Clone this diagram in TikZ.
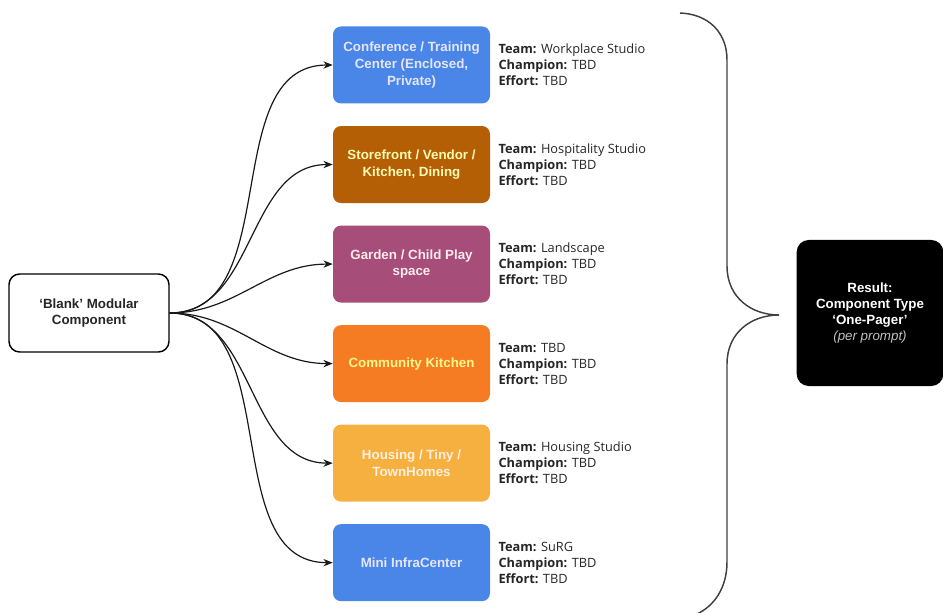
\documentclass[tikz,border=0pt]{standalone}
\usepackage{fontspec}
\setmainfont{Liberation Sans}
\newfontfamily\infofont{Open Sans}
\usetikzlibrary{positioning, arrows.meta}

\definecolor{confblue}{HTML}{4A86E8}
\definecolor{storebrown}{HTML}{B45F06}
\definecolor{gardenplum}{HTML}{A64D79}
\definecolor{kitchenorange}{HTML}{F57C22}
\definecolor{housingorange}{HTML}{F6B040}

\tikzset{
    component/.style={rounded corners=6pt, minimum width=117.75pt, minimum height=57.75pt,
        align=center, font=\bfseries\fontsize{10}{12.6}\selectfont, inner sep=2pt},
    info/.style={align=left, inner sep=0pt, text=black!85,
        font=\infofont\fontsize{9.6}{12}\selectfont},
    link/.style={-{Stealth[length=7pt,width=5.5pt]}, line width=0.9pt, black!90}
}

\begin{document}
\begin{tikzpicture}[x=0.75pt, y=-0.75pt]
    \useasboundingbox (0,0) rectangle (943,613);

    \node[draw, line width=1.1pt, rounded corners=8pt, minimum width=120pt, minimum height=58.5pt,
        align=center, font=\bfseries\fontsize{10}{12}\selectfont, text=black!85] (blank) at (89,313)
        {`Blank' Modular\\Component};

    \node[component, fill=confblue, text=blue!10] (conf) at (411.5,65)
        {Conference / Training\\Center (Enclosed,\\Private)};
    \node[component, fill=storebrown, text=yellow!30, below=16.5pt of conf] (store)
        {Storefront / Vendor /\\Kitchen, Dining};
    \node[component, fill=gardenplum, text=red!8, below=16.5pt of store] (garden)
        {Garden / Child Play\\space};
    \node[component, fill=kitchenorange, text=yellow!45, below=16.5pt of garden] (kitchen)
        {Community Kitchen};
    \node[component, fill=housingorange, text=orange!12, below=16.5pt of kitchen] (housing)
        {Housing / Tiny /\\TownHomes};
    \node[component, fill=confblue, text=blue!10, below=16.5pt of housing] (infra)
        {Mini InfraCenter};

    \node[info, right=6pt of conf] (confinfo)
        {\textbf{Team:} Workplace Studio\\\textbf{Champion:} TBD\\\textbf{Effort:} TBD};
    \node[info, right=6pt of store] (storeinfo)
        {\textbf{Team:} Hospitality Studio\\\textbf{Champion:} TBD\\\textbf{Effort:} TBD};
    \node[info, right=6pt of garden] (gardeninfo)
        {\textbf{Team:} Landscape\\\textbf{Champion:} TBD\\\textbf{Effort:} TBD};
    \node[info, right=6pt of kitchen] (kitcheninfo)
        {\textbf{Team:} TBD\\\textbf{Champion:} TBD\\\textbf{Effort:} TBD};
    \node[info, right=6pt of housing] (housinginfo)
        {\textbf{Team:} Housing Studio\\\textbf{Champion:} TBD\\\textbf{Effort:} TBD};
    \node[info, right=6pt of infra] (infrainfo)
        {\textbf{Team:} SuRG\\\textbf{Champion:} TBD\\\textbf{Effort:} TBD};

    \node[fill=black, rounded corners=9pt, minimum width=110pt, minimum height=109.5pt,
        align=center, text=white, font=\bfseries\fontsize{10}{11.8}\selectfont] (result) at (870,313)
        {Result:\\Component Type\\`One-Pager'\\{\mdseries\itshape\color{black!25}(per prompt)}};

    % connectors
    \draw[link] (blank.east) to[out=0, in=180] (conf.west);
    \draw[link] (blank.east) to[out=0, in=180] (store.west);
    \draw[link] (blank.east) to[out=0, in=180] (garden.west);
    \draw[link] (blank.east) to[out=0, in=180] (kitchen.west);
    \draw[link] (blank.east) to[out=0, in=180] (housing.west);
    \draw[link] (blank.east) to[out=0, in=180] (infra.west);

    % brace
    \draw[line width=1.1pt, black!75] (680,13) .. controls (708,14) and (727,32) .. (727,60)
        -- (727,266) .. controls (727,298) and (752,315) .. (779,315)
        .. controls (752,315) and (727,332) .. (727,364)
        -- (727,562) .. controls (727,588) and (714,606) .. (697,614);
\end{tikzpicture}
\end{document}
